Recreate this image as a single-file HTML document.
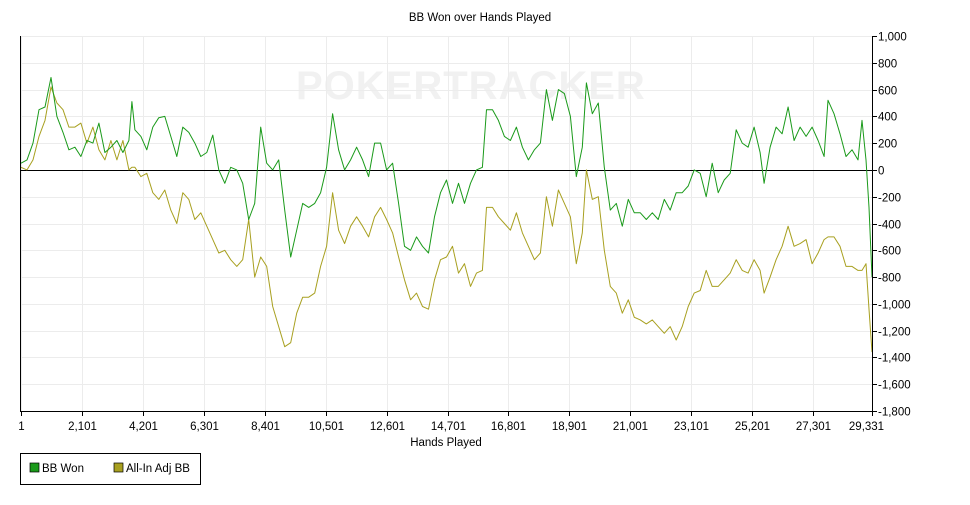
<!DOCTYPE html>
<html><head><meta charset="utf-8"><style>
body{margin:0;background:#fff;width:970px;height:500px;overflow:hidden;font-family:"Liberation Sans",sans-serif;}
svg text{font-family:"Liberation Sans",sans-serif;font-size:11.5px;fill:#000;}
</style></head><body>
<svg id="chart" width="970" height="500" xmlns="http://www.w3.org/2000/svg">
<text x="480" y="21" text-anchor="middle">BB Won over Hands Played</text>
<text x="296" y="99" style="font-size:40px;font-weight:bold;fill:#f1f1f1;letter-spacing:1px">POKERTRACKER</text>
<g id="grid"></g>
<g id="series"></g>
<g id="axes"></g>
<text x="446" y="446" text-anchor="middle">Hands Played</text>
<g>
<rect x="20.5" y="453.5" width="180" height="31" fill="#fff" stroke="#000" stroke-width="1"/>
<g><rect x="30" y="463" width="9" height="9" fill="#1a9a1a" stroke="#000" stroke-width="0.7"/><text x="42" y="472">BB Won</text></g>
<g><rect x="114" y="463" width="9" height="9" fill="#a8a020" stroke="#000" stroke-width="0.7"/><text x="126" y="472">All-In Adj BB</text></g>
</g>
</svg>
<script>
const hands=[1,208,414,621,827,1034,1240,1447,1653,1860,2067,2273,2480,2686,2893,3099,3306,3512,3719,3822,3925,4132,4338,4545,4752,4958,5165,5371,5578,5784,5991,6197,6404,6611,6817,7024,7230,7437,7643,7850,8056,8263,8470,8676,8883,9089,9296,9502,9709,9915,10122,10328,10535,10742,10948,11155,11361,11568,11774,11981,12187,12394,12600,12807,13014,13220,13427,13633,13840,14046,14253,14460,14666,14873,15079,15286,15492,15699,15905,16043,16250,16456,16663,16869,17076,17282,17489,17696,17902,18109,18315,18522,18728,18935,19141,19348,19486,19692,19899,20105,20312,20518,20725,20931,21138,21345,21551,21758,21964,22171,22377,22584,22790,22997,23204,23410,23617,23823,24030,24236,24443,24649,24856,25062,25269,25476,25613,25820,26026,26233,26439,26646,26852,27059,27265,27472,27679,27816,28023,28229,28436,28642,28849,28987,29123,29227,29331];
const bbWon=[50,75,200,450,470,690,400,280,150,170,100,220,200,350,130,170,220,130,220,510,300,250,150,320,390,400,250,100,320,280,200,100,130,260,0,-100,20,0,-100,-370,-250,320,50,0,75,-300,-650,-450,-250,-280,-250,-170,20,420,150,0,75,170,75,-50,200,200,0,50,-250,-570,-600,-500,-570,-620,-350,-170,-75,-250,-100,-250,-100,0,20,450,450,370,250,220,320,170,75,150,200,600,370,600,570,400,-50,170,650,420,500,20,-300,-250,-420,-220,-320,-320,-370,-320,-370,-220,-300,-170,-170,-120,0,-25,-200,50,-170,-75,-25,300,200,170,320,130,-100,170,320,270,470,220,320,250,320,220,100,520,420,270,100,150,75,370,75,-280,-800];
const allInAdj=[20,0,75,250,370,620,500,450,320,320,350,200,320,150,75,220,75,220,0,20,20,-50,-25,-170,-220,-150,-300,-400,-170,-220,-370,-320,-420,-520,-620,-600,-670,-720,-670,-370,-800,-650,-720,-1020,-1170,-1320,-1290,-1070,-950,-950,-920,-720,-570,-170,-450,-550,-420,-350,-420,-500,-350,-280,-370,-470,-650,-820,-970,-920,-1020,-1040,-820,-670,-650,-570,-770,-700,-870,-770,-750,-280,-280,-350,-400,-450,-320,-470,-570,-670,-620,-200,-420,-150,-250,-350,-700,-470,0,-220,-200,-600,-870,-920,-1070,-970,-1100,-1120,-1150,-1120,-1170,-1220,-1170,-1270,-1170,-1020,-920,-900,-750,-870,-870,-820,-770,-670,-750,-770,-670,-750,-920,-800,-670,-570,-420,-570,-550,-520,-700,-620,-520,-500,-500,-570,-720,-720,-750,-750,-700,-1040,-1360];
const xTicks=[1,2101,4201,6301,8401,10501,12601,14701,16801,18901,21001,23101,25201,27301,29331];
const yTicks=[1000,800,600,400,200,0,-200,-400,-600,-800,-1000,-1200,-1400,-1600,-1800];

const NS="http://www.w3.org/2000/svg";
const X0=21,X1=872,Y0=36,Y1=411,xMin=1,xMax=29331,yMin=-1800,yMax=1000;
const xs=v=>X0+(v-xMin)/(xMax-xMin)*(X1-X0);
const ys=v=>Y1-(v-yMin)/(yMax-yMin)*(Y1-Y0);
function mk(tag,attrs,parent){const e=document.createElementNS(NS,tag);for(const k in attrs)e.setAttribute(k,attrs[k]);parent.appendChild(e);return e;}
const grid=document.getElementById('grid'),axes=document.getElementById('axes'),ser=document.getElementById('series');
const fmt=v=>v.toLocaleString('en-US');
yTicks.forEach(t=>{
  const y=Math.round(ys(t))+0.5;
  const gl=mk('line',{x1:X0,x2:X1,y1:y,y2:y,stroke:'#ececec'},grid);
  
  
  mk('line',{x1:X1,x2:X1+5,y1:y,y2:y,stroke:'#000'},axes);
  const tx=mk('text',{x:X1+6,y:y+4},axes);
  
  
  tx.textContent=fmt(t);
});
xTicks.forEach((t,i)=>{
  const x=Math.round(xs(t))+0.5;
  const gl=mk('line',{x1:x,x2:x,y1:Y0,y2:Y1,stroke:'#ececec'},grid);
  
  
  mk('line',{x1:x,x2:x,y1:Y1,y2:Y1+5,stroke:'#000'},axes);
  const tx=mk('text',{x:i==xTicks.length-1?x-6:x,y:Y1+19,'text-anchor':'middle'},axes);
  
  
  tx.textContent=fmt(t);
});
mk('line',{x1:X0-0.5,x2:X0-0.5,y1:Y0,y2:Y1+1,stroke:'#000'},axes);
mk('line',{x1:X1+0.5,x2:X1+0.5,y1:Y0,y2:Y1+1,stroke:'#000'},axes);
mk('line',{x1:X0,x2:X1,y1:Y1+0.5,y2:Y1+0.5,stroke:'#000'},axes);
const z=Math.round(ys(0))+0.5;
const zl=mk('line',{x1:X0,x2:X1,y1:z,y2:z,stroke:'#000'},ser);


function line(vals,color,name){
  const d=vals.map((v,i)=>(i?'L':'M')+xs(hands[i]).toFixed(1)+','+ys(v).toFixed(1)).join('');
  const p=mk('path',{d:d,fill:'none',stroke:color,'stroke-width':1,'stroke-linejoin':'round'},ser);
  
  
}
line(allInAdj,'#a8a020','all-in-adj-bb-line');
line(bbWon,'#1a9a1a','bb-won-line');
</script>
</body></html>
